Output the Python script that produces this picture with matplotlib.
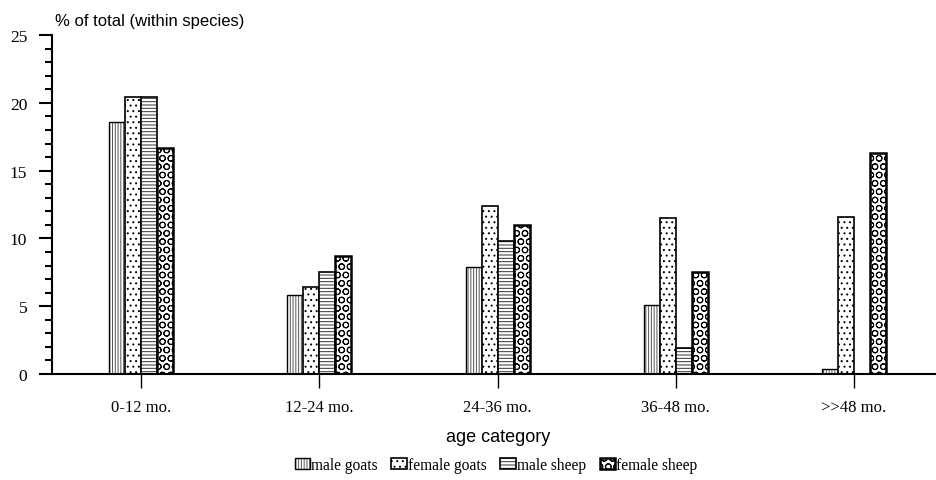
import numpy as np
import matplotlib
matplotlib.use("Agg")
import matplotlib.pyplot as plt
from matplotlib.ticker import MultipleLocator

# values (% of total, within species)
categories = ["0-12 mo.", "12-24 mo.", "24-36 mo.", "36-48 mo.", ">>48 mo."]
male_goats = [18.6, 5.8, 7.9, 5.1, 0.4]
female_goats = [20.4, 6.4, 12.4, 11.5, 11.6]
male_sheep = [20.4, 7.5, 9.8, 1.9, 0.0]
female_sheep = [16.7, 8.7, 11.0, 7.5, 16.3]

series = [
    ("male goats", male_goats, "||||||", "#555555", 1.0),
    ("female goats", female_goats, "...", "black", 1.2),
    ("male sheep", male_sheep, "-----", "#333333", 1.2),
    ("female sheep", female_sheep, "OO", "black", 1.8),
]

plt.rcParams["hatch.linewidth"] = 0.7

fig = plt.figure(figsize=(9.36, 4.81), dpi=100)
ax = fig.add_axes([0.0556, 0.2204, 0.9444, 0.7046])

x = np.arange(len(categories))
width = 0.09
for i, (name, vals, hatch, hcol, lw) in enumerate(series):
    offset = (i - 1.5) * width
    bars = ax.bar(x + offset, vals, width, facecolor="white", edgecolor="black",
                  linewidth=lw, hatch=hatch, label=name, zorder=2)
    for b in bars:
        b._hatch_color = matplotlib.colors.to_rgba(hcol)

ax.set_xlim(-0.5, 4.46)
ax.set_ylim(0, 25)
ax.yaxis.set_major_locator(MultipleLocator(5))
ax.yaxis.set_minor_locator(MultipleLocator(1))
ax.set_xticks(x)
ax.set_xticklabels(categories, fontfamily="Liberation Serif", fontsize=12)
for lab in ax.get_yticklabels():
    lab.set_fontfamily("Liberation Serif")
    lab.set_fontsize(12.5)

ax.spines["top"].set_visible(False)
ax.spines["right"].set_visible(False)
ax.spines["left"].set_linewidth(1.5)
ax.spines["bottom"].set_linewidth(1.5)
ax.tick_params(axis="y", which="major", length=9.4, width=1.5, direction="out", pad=8.5)
ax.tick_params(axis="y", which="minor", length=5, width=1.5, direction="out")
ax.tick_params(axis="x", which="major", length=10, width=1.0, direction="out", pad=8)

fig.text(0.059, 0.955, "% of total (within species)", fontfamily="Liberation Sans",
         fontsize=12, ha="left", va="center")
fig.text(0.532, 0.09, "age category", fontfamily="Liberation Sans",
         fontsize=13, ha="center", va="center")

fig.legend(loc="center", bbox_to_anchor=(0.53, 0.031), ncol=4, frameon=False,
           handlelength=1.0, handleheight=0.75, handletextpad=0.05, columnspacing=0.9,
           prop={"family": "Liberation Serif", "size": 11.2})

fig.savefig("out.png", dpi=100)
